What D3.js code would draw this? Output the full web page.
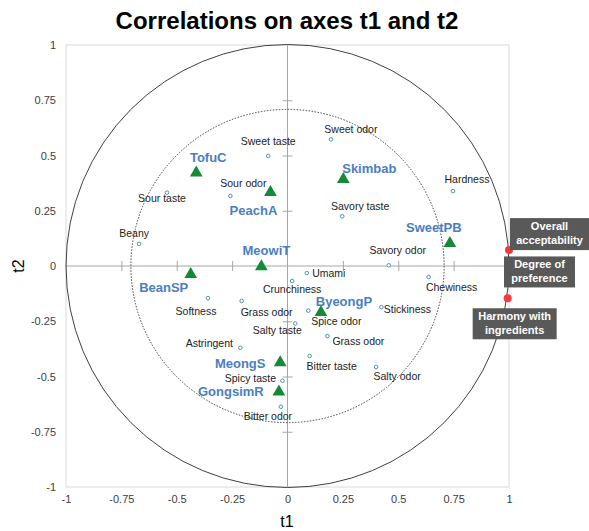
<!DOCTYPE html>
<html>
<head>
<meta charset="utf-8">
<script src="https://cdn.jsdelivr.net/npm/d3@7"></script>
<style>
  body { margin: 0; background: #fff; }
  text { font-family: "Liberation Sans", Arial, sans-serif; }
</style>
</head>
<body>
<div id="chart"></div>
<script>
// variables (active)
const varNames = ["Sweet taste", "Sour odor", "Sour taste", "Beany", "Sweet odor", "Hardness",
    "Savory taste", "Savory odor", "Chewiness", "Umami", "Crunchiness", "Stickiness", "Spice odor",
    "Salty taste", "Grass odor", "Bitter taste", "Salty odor", "Softness", "Grass odor", "Astringent",
    "Spicy taste", "Bitter odor"];
const varT1 = [-0.087, -0.258, -0.544, -0.67, 0.196, 0.747, 0.247, 0.457, 0.637, 0.087, 0.021, 0.424, 0.094,
    0.035, 0.18, 0.1, 0.4, -0.359, -0.207, -0.213, -0.023, -0.03];
const varT2 = [0.498, 0.317, 0.332, 0.10, 0.573, 0.339, 0.225, 0.003, -0.05, -0.032, -0.068, -0.186, -0.202,
    -0.26, -0.317, -0.407, -0.457, -0.146, -0.158, -0.37, -0.519, -0.637];

// products (observations)
const prodNames = ["TofuC", "PeachA", "MeowiT", "Skimbab", "SweetPB", "BeanSP", "ByeongP", "MeongS", "GongsimR"];
const prodT1 = [-0.412, -0.077, -0.118, 0.252, 0.733, -0.437, 0.151, -0.033, -0.039];
const prodT2 = [0.422, 0.333, -0.003, 0.392, 0.103, -0.038, -0.21, -0.437, -0.569];

// supplementary variables
const supNames = [["Overall", "acceptability"], ["Degree of", "preference"], ["Harmony with", "ingredients"]];
const supT1 = [1.0, 1.0, 0.994];
const supT2 = [0.072, -0.002, -0.146];

const axisTicks = [-1, -0.75, -0.5, -0.25, 0, 0.25, 0.5, 0.75, 1];

// label placement (px offsets from the point)
const varLabelOff = [[0,-15],[13,-13],[-5,6],[-5,-11],[20,-10],[14,-12],[18,-10],[9,-15],[23,10],[22,0],
    [0,8],[26,2],[28,11],[-18,7],[31,5],[22,10],[21,9],[-12,13],[25,11],[-31,-4],[-32,-2],[-13,10]];
const prodLabelOff = [[12,-15],[-17,18],[5,-16],[26,-11],[-16,-16],[-27,13],[23,-11],[-40,1],[-48,0]];
const supBox = [[1, -32, 79, 32], [-5, -10, 71, 31], [-35, 10, 84, 31]]; // dx, dy, w, h

const width = 589, height = 531;
const plot = {left: 66, right: 509, top: 45, bottom: 487};

const svg = d3.select("#chart").append("svg")
    .attr("width", width)
    .attr("height", height);

const x = d3.scaleLinear().domain([-1, 1]).range([plot.left, plot.right]);
const y = d3.scaleLinear().domain([-1, 1]).range([plot.bottom, plot.top]);

// title
svg.append("text")
    .attr("x", 287).attr("y", 29)
    .attr("text-anchor", "middle")
    .attr("font-size", 24).attr("font-weight", "bold")
    .text("Correlations on axes t1 and t2");

// frame
svg.append("rect")
    .attr("x", plot.left).attr("y", plot.top)
    .attr("width", plot.right - plot.left).attr("height", plot.bottom - plot.top)
    .attr("fill", "none").attr("stroke", "#d9d9d9");

// tick labels
const xAxis = d3.axisBottom(x).tickValues(axisTicks).tickSize(0).tickPadding(8).tickFormat(d => String(d));
const yAxis = d3.axisLeft(y).tickValues(axisTicks).tickSize(0).tickPadding(10).tickFormat(d => String(d));

svg.append("g").attr("class", "x-axis")
    .attr("transform", "translate(0," + plot.bottom + ")")
    .call(xAxis)
    .call(g => g.select(".domain").remove());
svg.append("g").attr("class", "y-axis")
    .attr("transform", "translate(" + plot.left + ",0)")
    .call(yAxis)
    .call(g => g.select(".domain").remove());
svg.selectAll(".x-axis text, .y-axis text")
    .attr("font-size", 11).attr("fill", "#404040")
    .attr("font-family", "'Liberation Sans', Arial, sans-serif");

// axis titles
svg.append("text")
    .attr("x", 287).attr("y", 527)
    .attr("text-anchor", "middle").attr("font-size", 16)
    .text("t1");
svg.append("text")
    .attr("transform", "translate(24," + y(0) + ") rotate(-90)")
    .attr("text-anchor", "middle").attr("font-size", 16)
    .text("t2");

// centre axes with tick marks
const inner = axisTicks.filter(d => d !== 0 && Math.abs(d) !== 1);
const midX = d3.axisBottom(x).tickValues(inner).tickSize(10).tickFormat("");
const midY = d3.axisLeft(y).tickValues(inner).tickSize(10).tickFormat("");
svg.append("g")
    .attr("transform", "translate(0," + (y(0) - 5) + ")")
    .call(midX)
    .call(g => g.select(".domain").remove())
    .selectAll("line").attr("stroke", "#a6a6a6");
svg.append("g")
    .attr("transform", "translate(" + (x(0) + 5) + ",0)")
    .call(midY)
    .call(g => g.select(".domain").remove())
    .selectAll("line").attr("stroke", "#a6a6a6");
svg.append("line")
    .attr("x1", x(-1)).attr("x2", x(1))
    .attr("y1", y(0)).attr("y2", y(0))
    .attr("stroke", "#a6a6a6");
svg.append("line")
    .attr("x1", x(0)).attr("x2", x(0))
    .attr("y1", y(-1)).attr("y2", y(1))
    .attr("stroke", "#a6a6a6");

// circles
svg.append("circle")
    .attr("cx", x(0)).attr("cy", y(0)).attr("r", x(1) - x(0))
    .attr("fill", "none").attr("stroke", "#404040").attr("stroke-width", 1);
svg.append("circle")
    .attr("cx", x(0)).attr("cy", y(0)).attr("r", x(Math.SQRT1_2) - x(0))
    .attr("fill", "none").attr("stroke", "#404040").attr("stroke-width", 1)
    .attr("stroke-dasharray", "1.5,1.5");

// variables
const vars = varNames.map((n, i) => ({name: n, t1: varT1[i], t2: varT2[i], off: varLabelOff[i]}));
svg.selectAll(".var-dot").data(vars).enter().append("circle")
    .attr("class", "var-dot")
    .attr("cx", d => x(d.t1)).attr("cy", d => y(d.t2)).attr("r", 1.8)
    .attr("fill", "#fff").attr("stroke", "#4f93b8").attr("stroke-width", 1);
svg.selectAll(".var-label").data(vars).enter().append("text")
    .attr("class", "var-label")
    .attr("x", d => x(d.t1) + d.off[0]).attr("y", d => y(d.t2) + d.off[1])
    .attr("dy", "0.35em").attr("text-anchor", "middle")
    .attr("font-size", 10.5).attr("fill", "#222")
    .text(d => d.name);

// products
const prods = prodNames.map((n, i) => ({name: n, t1: prodT1[i], t2: prodT2[i], off: prodLabelOff[i]}));
svg.selectAll(".prod").data(prods).enter().append("path")
    .attr("class", "prod")
    .attr("transform", d => "translate(" + x(d.t1) + "," + y(d.t2) + ")")
    .attr("d", d3.symbol(d3.symbolTriangle, 70))
    .attr("fill", "#138a36");
svg.selectAll(".prod-label").data(prods).enter().append("text")
    .attr("class", "prod-label")
    .attr("x", d => x(d.t1) + d.off[0]).attr("y", d => y(d.t2) + d.off[1])
    .attr("dy", "0.35em").attr("text-anchor", "middle")
    .attr("font-size", 13).attr("font-weight", "bold").attr("fill", "#4a7ebf")
    .text(d => d.name);

// supplementary
const sups = supNames.map((n, i) => ({name: n, t1: supT1[i], t2: supT2[i], box: supBox[i]}));
svg.selectAll(".sup-dot").data(sups).enter().append("circle")
    .attr("class", "sup-dot")
    .attr("cx", d => x(d.t1)).attr("cy", d => y(d.t2)).attr("r", 4)
    .attr("fill", "#f23c3c");
const boxes = svg.selectAll(".sup-box").data(sups).enter().append("g")
    .attr("class", "sup-box")
    .attr("transform", d => "translate(" + (x(d.t1) + d.box[0]) + "," + (y(d.t2) + d.box[1]) + ")");
boxes.append("rect")
    .attr("width", d => d.box[2]).attr("height", d => d.box[3])
    .attr("fill", "#595959");
boxes.each(function(d) {
    const t = d3.select(this).append("text")
        .attr("text-anchor", "middle")
        .attr("font-size", 11).attr("font-weight", "bold").attr("fill", "#fff");
    d.name.forEach((line, k) => {
        t.append("tspan")
            .attr("x", d.box[2] / 2)
            .attr("y", 12 + k * 14)
            .text(line);
    });
});
</script>
</body>
</html>
